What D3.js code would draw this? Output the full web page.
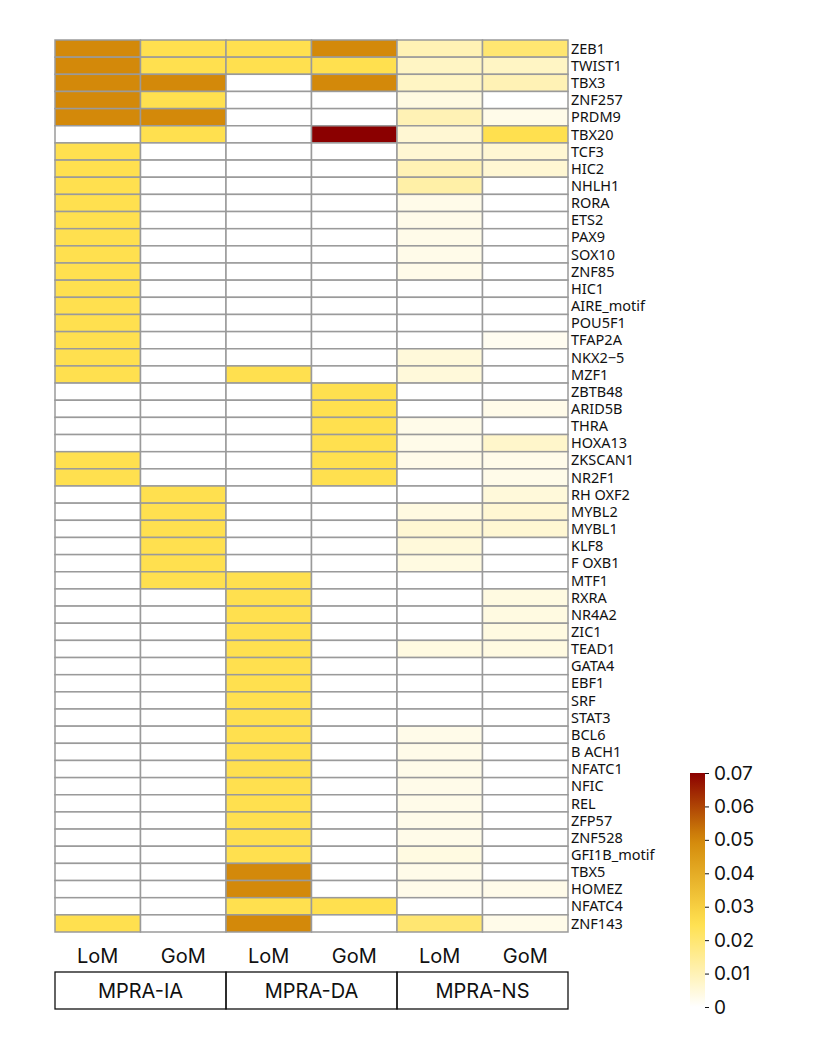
<!DOCTYPE html>
<html>
<head>
<meta charset="utf-8">
<script src="https://cdn.jsdelivr.net/npm/d3@7"></script>
<style>
  body { margin: 0; background: #fff; font-family: Inter, "Noto Sans", sans-serif; }
</style>
</head>
<body>
<div id="chart"></div>
<script>
const columns = ['LoM', 'GoM', 'LoM', 'GoM', 'LoM', 'GoM'];
const groups = ['MPRA-IA', 'MPRA-DA', 'MPRA-NS'];
const genes = ['ZEB1','TWIST1','TBX3','ZNF257','PRDM9','TBX20','TCF3','HIC2','NHLH1','RORA',
  'ETS2','PAX9','SOX10','ZNF85','HIC1','AIRE_motif','POU5F1','TFAP2A','NKX2\u22125','MZF1',
  'ZBTB48','ARID5B','THRA','HOXA13','ZKSCAN1','NR2F1','RH OXF2','MYBL2','MYBL1','KLF8',
  'F OXB1','MTF1','RXRA','NR4A2','ZIC1','TEAD1','GATA4','EBF1','SRF','STAT3',
  'BCL6','B ACH1','NFATC1','NFIC','REL','ZFP57','ZNF528','GFI1B_motif','TBX5','HOMEZ',
  'NFATC4','ZNF143'];
const values = [
  [.05,.025,.025,.05,.01,.02],
  [.05,.025,.025,.025,.008,.008],
  [.05,.05,0,.05,.008,.01],
  [.05,.025,0,0,.004,0],
  [.05,.05,0,0,.01,.003],
  [0,.025,0,.07,.006,.025],
  [.025,0,0,0,.006,.006],
  [.025,0,0,0,.01,.006],
  [.025,0,0,0,.012,0],
  [.025,0,0,0,.003,0],
  [.025,0,0,0,.003,0],
  [.025,0,0,0,.003,0],
  [.025,0,0,0,.003,0],
  [.025,0,0,0,.003,0],
  [.025,0,0,0,0,0],
  [.025,0,0,0,0,0],
  [.025,0,0,0,0,0],
  [.025,0,0,0,0,.002],
  [.025,0,0,0,.005,0],
  [.025,0,.025,0,.005,0],
  [0,0,0,.025,0,0],
  [0,0,0,.025,0,.003],
  [0,0,0,.025,.003,0],
  [0,0,0,.025,.003,.007],
  [.025,0,0,.025,.003,.003],
  [.025,0,0,.025,0,.003],
  [0,.025,0,0,0,.005],
  [0,.025,0,0,.004,.006],
  [0,.025,0,0,.006,.006],
  [0,.025,0,0,.005,0],
  [0,.025,0,0,.004,0],
  [0,.025,.025,0,0,0],
  [0,0,.025,0,0,.004],
  [0,0,.025,0,0,.004],
  [0,0,.025,0,0,.004],
  [0,0,.025,0,.004,.004],
  [0,0,.025,0,0,0],
  [0,0,.025,0,0,0],
  [0,0,.025,0,0,0],
  [0,0,.025,0,0,0],
  [0,0,.025,0,.003,0],
  [0,0,.025,0,.003,0],
  [0,0,.025,0,.003,0],
  [0,0,.025,0,.003,0],
  [0,0,.025,0,.003,0],
  [0,0,.025,0,.003,0],
  [0,0,.025,0,.003,0],
  [0,0,.025,0,.004,0],
  [0,0,.05,0,.003,0],
  [0,0,.05,0,.003,.003],
  [0,0,.025,.025,0,0],
  [.025,0,.05,0,.02,.003]
];
const legendTicks = [0, 0.01, 0.02, 0.03, 0.04, 0.05, 0.06, 0.07];

const W = 821, H = 1043;
const svg = d3.select('#chart').append('svg').attr('width', W).attr('height', H);

const x = d3.scaleBand().domain(d3.range(columns.length)).range([55, 568]);
const y = d3.scaleBand().domain(genes).range([40, 932]);
const color = d3.scaleLinear()
  .domain([0, 0.01, 0.025, 0.05, 0.07])
  .range(['#ffffff', '#fff2b5', '#ffe04f', '#d3890a', '#8b0000']);

// cells
const cells = [];
values.forEach((row, i) => row.forEach((v, j) => cells.push({gene: genes[i], col: j, v})));
svg.append('g').selectAll('rect').data(cells).enter().append('rect')
  .attr('x', d => x(d.col)).attr('y', d => y(d.gene))
  .attr('width', x.bandwidth()).attr('height', y.bandwidth())
  .attr('fill', d => color(d.v))
  .attr('stroke', '#9a9a9a').attr('stroke-width', 1.5);

// row labels
svg.append('g').selectAll('text').data(genes).enter().append('text')
  .attr('x', 571).attr('y', d => y(d) + y.bandwidth() / 2)
  .attr('dy', '0.36em').attr('font-size', 14.5).attr('fill', '#111')
  .attr('font-family', '"Liberation Sans Narrow", "Noto Sans", sans-serif')
  .text(d => d);

// column labels
svg.append('g').selectAll('text').data(columns).enter().append('text')
  .attr('x', (d, i) => x(i) + x.bandwidth() / 2).attr('y', 963)
  .attr('text-anchor', 'middle').attr('font-size', 20).attr('fill', '#111')
  .text(d => d);

// group boxes
const gx = d3.scaleBand().domain(groups).range([55, 568]);
const gg = svg.append('g').selectAll('g').data(groups).enter().append('g');
gg.append('rect')
  .attr('x', d => gx(d)).attr('y', 972)
  .attr('width', gx.bandwidth()).attr('height', 37)
  .attr('fill', 'none').attr('stroke', '#111').attr('stroke-width', 1.3);
gg.append('text')
  .attr('x', d => gx(d) + gx.bandwidth() / 2).attr('y', 998)
  .attr('text-anchor', 'middle').attr('font-size', 20).attr('fill', '#111')
  .text(d => d);

// colour bar
const defs = svg.append('defs');
const grad = defs.append('linearGradient').attr('id', 'cb')
  .attr('x1', 0).attr('y1', 1).attr('x2', 0).attr('y2', 0);
d3.range(0, 1.0001, 0.05).forEach(t => {
  grad.append('stop').attr('offset', t).attr('stop-color', color(t * 0.07));
});
const ly = d3.scaleLinear().domain([0, 0.07]).range([1007, 773]);
svg.append('rect').attr('x', 690).attr('y', 773).attr('width', 15).attr('height', 234)
  .attr('fill', 'url(#cb)');
const lg = svg.append('g').attr('transform', 'translate(705,0)')
  .call(d3.axisRight(ly).tickValues(legendTicks).tickSize(4).tickFormat(d3.format('~g')));
lg.select('.domain').remove();
lg.selectAll('.tick text').attr('font-size', 19).attr('x', 9)
  .attr('font-family', 'Inter, "Noto Sans", sans-serif').attr('fill', '#111');
lg.selectAll('.tick line').attr('stroke', '#111');
</script>
</body>
</html>
